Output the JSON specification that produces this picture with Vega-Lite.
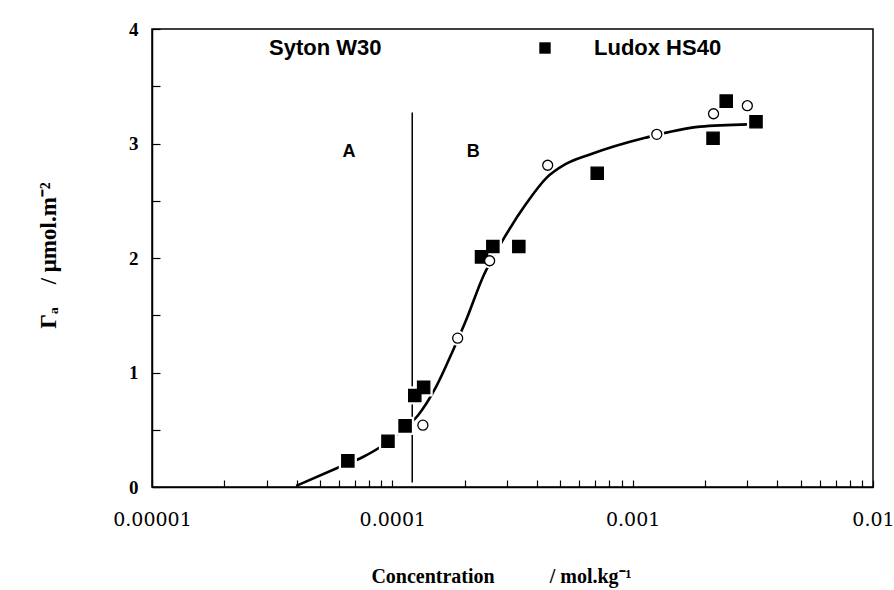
{
  "$schema": "https://vega.github.io/schema/vega-lite/v6.json",
  "width": 721,
  "height": 458,
  "autosize": {"type": "none"},
  "padding": {"left": 152, "top": 29, "right": 21, "bottom": 103},
  "background": "white",
  "config": {
    "view": {"stroke": "black", "strokeWidth": 1.5},
    "axis": {
      "grid": false,
      "domainColor": "black",
      "domainWidth": 1.5,
      "ticks": true,
      "tickColor": "black",
      "tickWidth": 1.2,
      "labelColor": "black",
      "titleColor": "black",
      "labelFlush": false,
      "labelOverlap": false,
      "labelBound": false
    }
  },
  "datasets": {
    "fit": [
      {"c": 3.98e-5, "g": 0.01},
      {"c": 6.03e-5, "g": 0.175},
      {"c": 7.54e-5, "g": 0.262},
      {"c": 9.14e-5, "g": 0.365},
      {"c": 1.07e-4, "g": 0.48},
      {"c": 1.28e-4, "g": 0.627},
      {"c": 1.52e-4, "g": 0.874},
      {"c": 1.79e-4, "g": 1.195},
      {"c": 2.03e-4, "g": 1.46},
      {"c": 2.385e-4, "g": 1.836},
      {"c": 2.94e-4, "g": 2.186},
      {"c": 3.62e-4, "g": 2.48},
      {"c": 4.38e-4, "g": 2.7},
      {"c": 5.23e-4, "g": 2.817},
      {"c": 6.64e-4, "g": 2.904},
      {"c": 1.128e-3, "g": 3.05},
      {"c": 1.908e-3, "g": 3.147},
      {"c": 3.03e-3, "g": 3.167}
    ],
    "divider": [{"c": 1.21e-4, "g1": 0.04, "g2": 3.27}],
    "notes": [
      {"c": 6.6e-5, "g": 2.93, "label": "A"},
      {"c": 2.17e-4, "g": 2.93, "label": "B"}
    ],
    "points": [
      {"series": "Ludox HS40", "c": 6.53e-5, "g": 0.228},
      {"series": "Ludox HS40", "c": 9.59e-5, "g": 0.4},
      {"series": "Ludox HS40", "c": 1.13e-4, "g": 0.534},
      {"series": "Ludox HS40", "c": 1.24e-4, "g": 0.8},
      {"series": "Ludox HS40", "c": 1.35e-4, "g": 0.87},
      {"series": "Ludox HS40", "c": 2.35e-4, "g": 2.01},
      {"series": "Ludox HS40", "c": 2.62e-4, "g": 2.1},
      {"series": "Ludox HS40", "c": 3.36e-4, "g": 2.1},
      {"series": "Ludox HS40", "c": 7.12e-4, "g": 2.74},
      {"series": "Ludox HS40", "c": 2.16e-3, "g": 3.045},
      {"series": "Ludox HS40", "c": 2.45e-3, "g": 3.37},
      {"series": "Ludox HS40", "c": 3.26e-3, "g": 3.19},
      {"series": "Syton W30", "c": 1.34e-4, "g": 0.54},
      {"series": "Syton W30", "c": 1.87e-4, "g": 1.3},
      {"series": "Syton W30", "c": 2.54e-4, "g": 1.976},
      {"series": "Syton W30", "c": 4.43e-4, "g": 2.81},
      {"series": "Syton W30", "c": 1.26e-3, "g": 3.08},
      {"series": "Syton W30", "c": 2.17e-3, "g": 3.26},
      {"series": "Syton W30", "c": 3.0e-3, "g": 3.33}
    ]
  },
  "resolve": {"scale": {"size": "independent"}},
  "layer": [
    {
      "data": {"name": "fit"},
      "mark": {"type": "line", "interpolate": "monotone", "color": "black", "strokeWidth": 2.6},
      "encoding": {
        "x": {
          "field": "c",
          "type": "quantitative",
          "scale": {"type": "log", "domain": [0.00001, 0.01]},
          "axis": {
            "values": [0.00001, 0.00002, 0.00003, 0.00004, 0.00005, 0.00006, 0.00007, 0.00008, 0.00009,
                       0.0001, 0.0002, 0.0003, 0.0004, 0.0005, 0.0006, 0.0007, 0.0008, 0.0009,
                       0.001, 0.002, 0.003, 0.004, 0.005, 0.006, 0.007, 0.008, 0.009, 0.01],
            "labelExpr": "datum.value == 0.00001 ? '0.00001' : datum.value == 0.0001 ? '0.0001' : datum.value == 0.001 ? '0.001' : datum.value == 0.01 ? '0.01' : ''",
            "tickSize": -7,
            "labelPadding": 30,
            "labelFont": "DejaVu Serif",
            "labelFontSize": 19,
            "title": "Concentration\u00a0\u00a0\u00a0\u00a0\u00a0\u00a0\u00a0\u00a0\u00a0\u00a0\u00a0/ mol.kg\u207b\u00b9",
            "titleFont": "Liberation Serif",
            "titleFontWeight": "bold",
            "titleFontSize": 20,
            "titleX": 349,
            "titleY": 95,
            "titleBaseline": "alphabetic",
            "titleAlign": "center"
          }
        },
        "y": {
          "field": "g",
          "type": "quantitative",
          "scale": {"domain": [0, 4]},
          "axis": {
            "values": [0, 0.5, 1, 1.5, 2, 2.5, 3, 3.5, 4],
            "labelExpr": "datum.value % 1 === 0 ? format(datum.value, 'd') : ''",
            "tickSize": -8,
            "labelPadding": 22,
            "labelFont": "Liberation Serif",
            "labelFontWeight": "bold",
            "labelFontSize": 19,
            "title": "\u0393\u2090\u00a0\u00a0\u00a0\u00a0/ \u03bcmol.m\u207b\u00b2",
            "titleFont": "Liberation Serif",
            "titleFontWeight": "bold",
            "titleFontSize": 23,
            "titleX": -104,
            "titleY": 226,
            "titleAngle": 270,
            "titleAlign": "center",
            "titleBaseline": "middle"
          }
        }
      }
    },
    {
      "data": {"name": "divider"},
      "mark": {"type": "rule", "color": "black", "strokeWidth": 1.5},
      "encoding": {
        "x": {"field": "c", "type": "quantitative"},
        "y": {"field": "g1", "type": "quantitative"},
        "y2": {"field": "g2"}
      }
    },
    {
      "data": {"name": "notes"},
      "mark": {"type": "text", "font": "Liberation Sans", "fontWeight": "bold", "fontSize": 18, "color": "black", "align": "center", "baseline": "middle"},
      "encoding": {
        "x": {"field": "c", "type": "quantitative"},
        "y": {"field": "g", "type": "quantitative"},
        "text": {"field": "label"}
      }
    },
    {
      "data": {"name": "points"},
      "transform": [{"filter": "datum.series == 'Syton W30'"}],
      "mark": {"type": "point", "shape": "circle", "size": 230, "filled": true, "color": "white", "opacity": 1, "strokeWidth": 0},
      "encoding": {
        "x": {"field": "c", "type": "quantitative"},
        "y": {"field": "g", "type": "quantitative"}
      }
    },
    {
      "data": {"name": "points"},
      "transform": [{"filter": "datum.series == 'Ludox HS40'"}],
      "mark": {"type": "point", "shape": "square", "size": 330, "filled": true, "color": "white", "opacity": 1, "strokeWidth": 0},
      "encoding": {
        "x": {"field": "c", "type": "quantitative"},
        "y": {"field": "g", "type": "quantitative"}
      }
    },
    {
      "data": {"name": "points"},
      "mark": {"type": "point", "opacity": 1, "stroke": "black", "strokeWidth": 1.3},
      "encoding": {
        "x": {"field": "c", "type": "quantitative"},
        "y": {"field": "g", "type": "quantitative"},
        "shape": {
          "field": "series", "type": "nominal",
          "scale": {"domain": ["Syton W30", "Ludox HS40"], "range": ["circle", "square"]},
          "legend": {
            "orient": "none", "legendX": 57, "legendY": 8, "direction": "horizontal", "title": null,
            "labelFont": "Liberation Sans", "labelFontWeight": "bold", "labelFontSize": 22, "labelColor": "black",
            "labelOffset": 38, "columnPadding": 152, "symbolSize": 130,
            "symbolStrokeColor": "black", "symbolStrokeWidth": 1.3
          }
        },
        "fill": {
          "field": "series", "type": "nominal",
          "scale": {"domain": ["Syton W30", "Ludox HS40"], "range": ["white", "black"]},
          "legend": {
            "orient": "none", "legendX": 57, "legendY": 8, "direction": "horizontal", "title": null,
            "labelFont": "Liberation Sans", "labelFontWeight": "bold", "labelFontSize": 22, "labelColor": "black",
            "labelOffset": 38, "columnPadding": 152, "symbolSize": 130,
            "symbolStrokeColor": "black", "symbolStrokeWidth": 1.3
          }
        },
        "size": {"field": "series", "type": "nominal", "scale": {"domain": ["Syton W30", "Ludox HS40"], "range": [100, 150]}, "legend": null}
      }
    }
  ]
}
